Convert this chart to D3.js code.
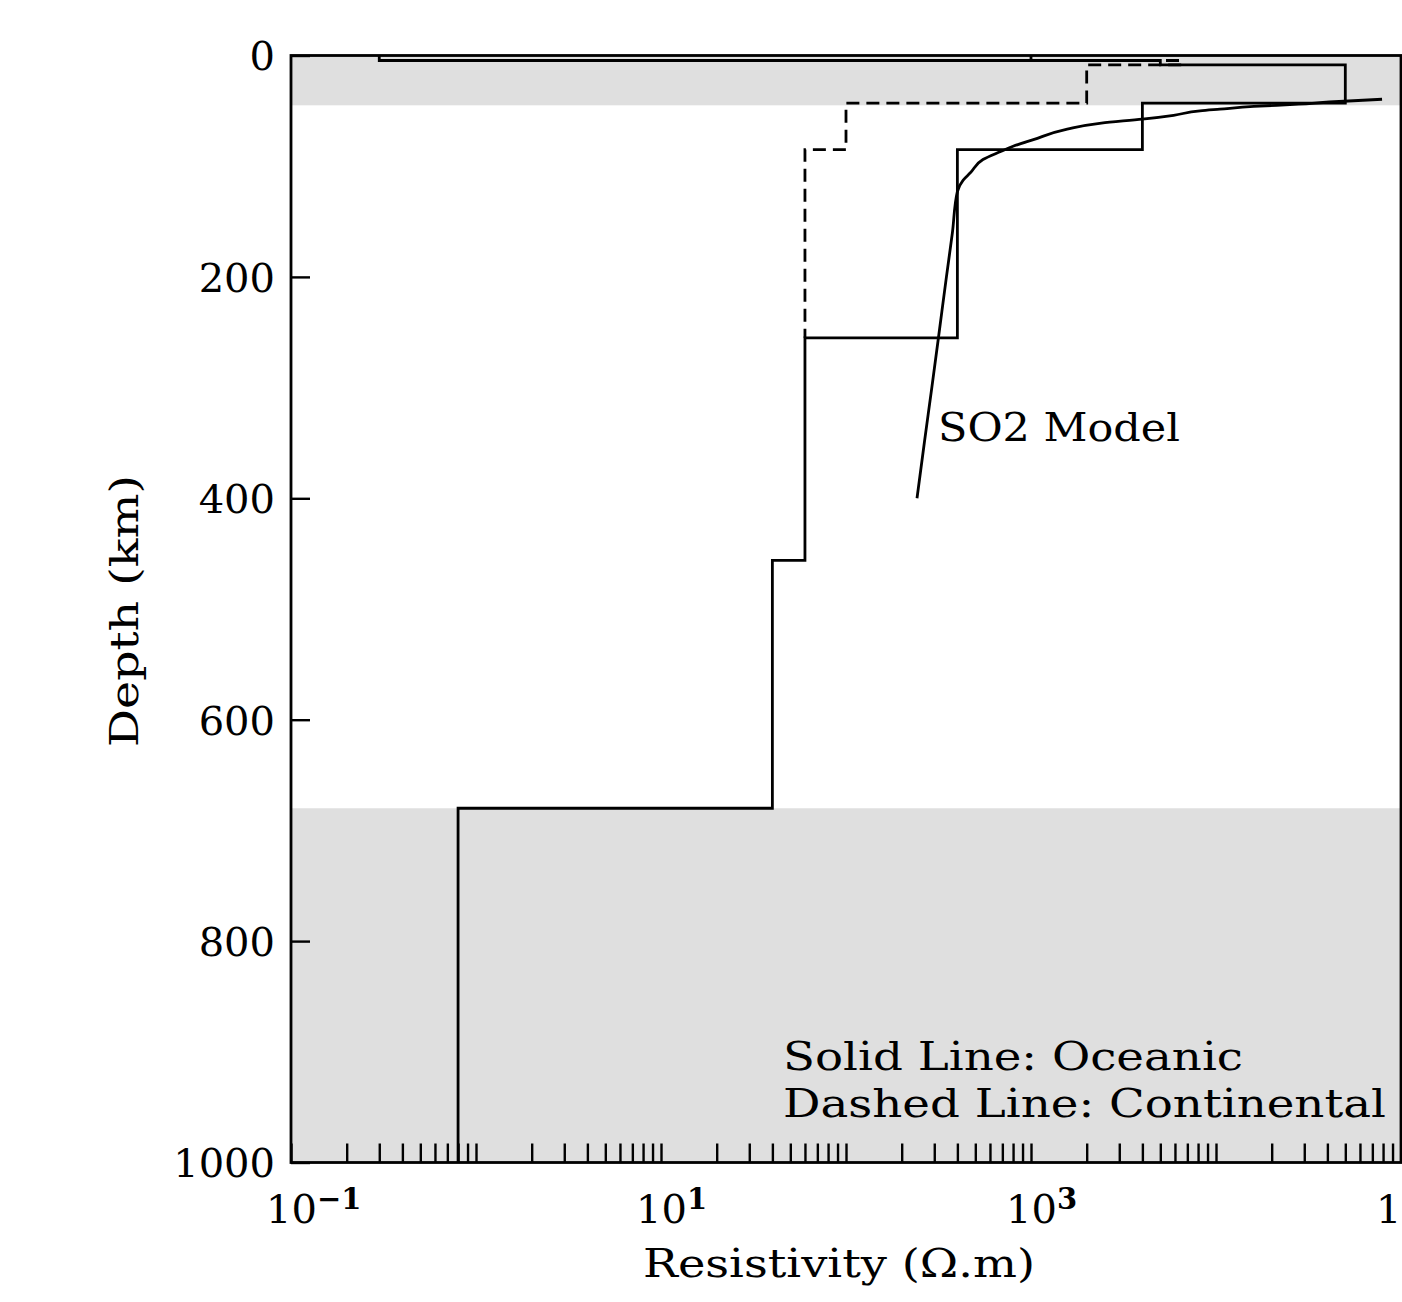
<!DOCTYPE html>
<html>
<head>
<meta charset="utf-8">
<script src="https://cdn.jsdelivr.net/npm/d3@7"></script>
<style>
  body { margin: 0; background: #fff; }
  text { font-family: "DejaVu Serif", "Liberation Serif", serif; fill: #000; }
</style>
</head>
<body>
<svg id="chart"></svg>
<script>
// resistivity models, depth in km, resistivity in ohm.m
// each layer: depth where it starts + its resistivity
const oceanicTop = [0, 4.5, 8.5, 43, 85, 255, 456, 680];
const oceanicRes = [0.3, 5000, 50000, 4000, 400, 60, 40, 0.8];
const oceanicBottom = 1000;

// continental joins the oceanic line at 255 km
const continentalTop = [0, 4.5, 8.5, 43, 85];
const continentalRes = [1000, 6500, 2000, 100, 60];
const continentalBottom = 255;

// SO2 model curve
const so2Depth = [39.5, 42, 44, 46, 48.5, 50, 54, 57.5, 61, 66.5, 76, 82, 87, 94, 106, 112.5, 123, 160, 200, 255, 300, 350, 400];
const so2Res = [79000, 41000, 28000, 16000, 10500, 8200, 5900, 4000, 2400, 1570, 1030, 800, 680, 550, 470, 430, 400, 376, 349, 316, 291, 265, 242];

// grey bands
const bandFrom = [0, 680];
const bandTo = [45, 1000];

const depthTicks = [0, 200, 400, 600, 800, 1000];
const labelExps = [-1, 1, 3, 5];

const W = 1402, H = 1302;
const svg = d3.select("#chart").attr("width", W).attr("height", H);

const x = d3.scaleLog().domain([0.1, 1e5]).range([291, 1401]);
const y = d3.scaleLinear().domain([0, 1000]).range([55.5, 1162.5]);

// grey bands
svg.selectAll("rect.band")
    .data(bandFrom)
    .enter()
    .append("rect")
    .attr("class", "band")
    .attr("x", x(0.1))
    .attr("width", x(1e5) - x(0.1))
    .attr("y", d => y(d))
    .attr("height", (d, i) => y(bandTo[i]) - y(d))
    .attr("fill", "#dfdfdf");

// turn layer tables into step points
function steps(tops, res, bottom) {
    let pts = [];
    for (let i = 0; i < tops.length; i++) {
        let bot = i < tops.length - 1 ? tops[i + 1] : bottom;
        pts.push([res[i], tops[i]]);
        pts.push([res[i], bot]);
    }
    return pts;
}

let line = d3.line()
    .x(d => x(d[0]))
    .y(d => y(d[1]));

// continental (dashed) first, oceanic on top
svg.append("path")
    .attr("d", line(steps(continentalTop, continentalRes, continentalBottom)))
    .attr("fill", "none")
    .attr("stroke", "#000")
    .attr("stroke-width", 2.8)
    .attr("stroke-dasharray", "13,7");

svg.append("path")
    .attr("d", line(steps(oceanicTop, oceanicRes, oceanicBottom)))
    .attr("fill", "none")
    .attr("stroke", "#000")
    .attr("stroke-width", 2.8);

let so2Line = d3.line()
    .x((d, i) => x(so2Res[i]))
    .y(d => y(d))
    .curve(d3.curveMonotoneY);

svg.append("path")
    .attr("d", so2Line(so2Depth))
    .attr("fill", "none")
    .attr("stroke", "#000")
    .attr("stroke-width", 2.8);

// x axis: ticks at every 1..9 x decade, pointing inwards
let xTicks = [];
for (let e = -1; e < 5; e++) {
    for (let m = 1; m < 10; m++) xTicks.push(m * Math.pow(10, e));
}
xTicks.push(1e5);

let xAxis = svg.append("g")
    .attr("transform", "translate(0," + y(1000) + ")")
    .call(d3.axisBottom(x).tickValues(xTicks).tickSize(-19).tickSizeOuter(0).tickFormat(""));
xAxis.select(".domain").remove();
xAxis.selectAll("line").attr("stroke", "#000").attr("stroke-width", 2.4);

// x labels: 10 with exponent, "10" centred on tick
labelExps.forEach(function(e) {
    let t = svg.append("text")
        .attr("x", x(Math.pow(10, e)) - 25)
        .attr("y", 1223)
        .style("font-size", "40px");
    t.append("tspan").text("10");
    t.append("tspan")
        .attr("dy", -14)
        .style("font-size", "29px")
        .style("font-weight", "bold")
        .text(e < 0 ? "\u2212" + (-e) : e);
});

// y axis
let yAxis = svg.append("g")
    .attr("transform", "translate(" + x(0.1) + ",0)")
    .call(d3.axisLeft(y).tickValues(depthTicks).tickFormat(d3.format("d"))
        .tickSize(-19).tickSizeOuter(0).tickPadding(16));
yAxis.select(".domain").remove();
yAxis.selectAll("line").attr("stroke", "#000").attr("stroke-width", 2.4);
yAxis.selectAll("text")
    .attr("dy", "0.36em")
    .style("font-family", "'DejaVu Serif', 'Liberation Serif', serif")
    .style("font-size", "40px")
    .attr("fill", "#000");

// frame
svg.append("rect")
    .attr("x", x(0.1))
    .attr("y", y(0))
    .attr("width", x(1e5) - x(0.1))
    .attr("height", y(1000) - y(0))
    .attr("fill", "none")
    .attr("stroke", "#000")
    .attr("stroke-width", 2.8);

// labels
svg.append("text")
    .attr("x", 839)
    .attr("y", 1277)
    .attr("text-anchor", "middle")
    .attr("textLength", 392)
    .attr("lengthAdjust", "spacingAndGlyphs")
    .style("font-size", "39px")
    .text("Resistivity (\u03A9.m)");

svg.append("text")
    .attr("transform", "translate(138,611) rotate(-90)")
    .attr("text-anchor", "middle")
    .attr("textLength", 272)
    .attr("lengthAdjust", "spacingAndGlyphs")
    .style("font-size", "39px")
    .text("Depth (km)");

svg.append("text")
    .attr("x", 938)
    .attr("y", 441)
    .attr("textLength", 242)
    .attr("lengthAdjust", "spacingAndGlyphs")
    .style("font-size", "39px")
    .text("SO2 Model");

svg.append("text")
    .attr("x", 783)
    .attr("y", 1070)
    .attr("textLength", 460)
    .attr("lengthAdjust", "spacingAndGlyphs")
    .style("font-size", "39px")
    .text("Solid Line: Oceanic");

svg.append("text")
    .attr("x", 783)
    .attr("y", 1117)
    .attr("textLength", 603)
    .attr("lengthAdjust", "spacingAndGlyphs")
    .style("font-size", "39px")
    .text("Dashed Line: Continental");
</script>
</body>
</html>
